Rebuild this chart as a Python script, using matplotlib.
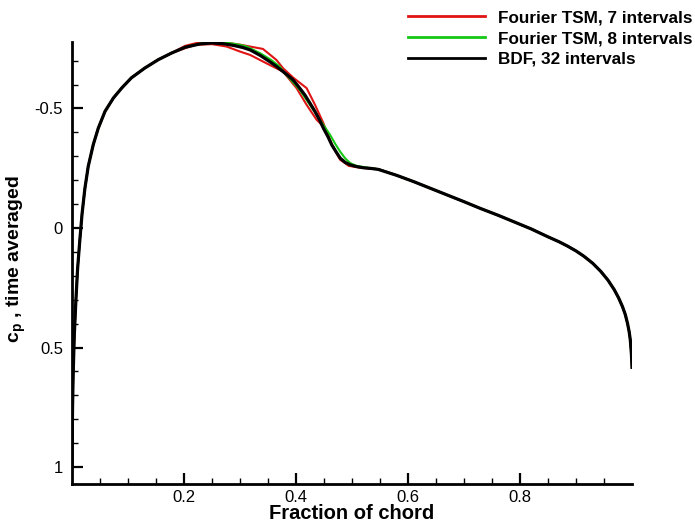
import matplotlib
matplotlib.use("Agg")
import matplotlib.pyplot as plt
from matplotlib.ticker import FixedLocator

plt.rcParams['font.family'] = ['Liberation Sans', 'DejaVu Sans']
plt.rcParams['mathtext.fontset'] = 'custom'
plt.rcParams['mathtext.rm'] = 'Liberation Sans'
plt.rcParams['mathtext.bf'] = 'Liberation Sans:bold'

# ---------------- data ----------------
# shared leading-edge part
le_x = [0.000, 0.0005, 0.001, 0.002, 0.004, 0.007, 0.010, 0.014, 0.018, 0.023,
        0.029, 0.038, 0.047, 0.059, 0.074, 0.089, 0.106, 0.130, 0.154, 0.178]
le_cp = [1.000, 0.850, 0.750, 0.620, 0.455, 0.300, 0.170, 0.050, -0.060, -0.165,
         -0.258, -0.349, -0.418, -0.488, -0.544, -0.586, -0.628, -0.669, -0.704, -0.732]

# shared aft part (x > 0.55)
te_x = [0.580, 0.610, 0.640, 0.670, 0.700, 0.729, 0.760, 0.789, 0.820, 0.849,
        0.870, 0.885, 0.900, 0.914, 0.930, 0.944, 0.957, 0.968, 0.976, 0.983,
        0.988, 0.992, 0.995, 0.997, 0.998, 0.999, 1.000]
te_cp = [-0.220, -0.194, -0.166, -0.138, -0.110, -0.082, -0.054, -0.026, 0.004, 0.036,
         0.058, 0.076, 0.096, 0.118, 0.148, 0.181, 0.218, 0.257, 0.292, 0.329,
         0.362, 0.399, 0.435, 0.469, 0.500, 0.530, 0.583]

bdf_mid_x = [0.202, 0.229, 0.250, 0.270, 0.290, 0.305, 0.318, 0.336, 0.353, 0.365,
             0.377, 0.386, 0.395, 0.405, 0.416, 0.425, 0.434, 0.442, 0.449, 0.457,
             0.464, 0.472, 0.479, 0.488, 0.497, 0.508, 0.520, 0.534, 0.547]
bdf_mid_cp = [-0.756, -0.770, -0.774, -0.771, -0.763, -0.755, -0.745, -0.722, -0.696, -0.676,
              -0.654, -0.637, -0.619, -0.590, -0.556, -0.522, -0.487, -0.452, -0.417, -0.382,
              -0.347, -0.317, -0.292, -0.274, -0.264, -0.257, -0.252, -0.249, -0.245]

tsm8_mid_x = [0.202, 0.229, 0.250, 0.280, 0.300, 0.312, 0.336, 0.355, 0.371, 0.377,
              0.392, 0.407, 0.422, 0.437, 0.449, 0.461, 0.470, 0.479, 0.488, 0.497,
              0.508, 0.520, 0.547]
tsm8_mid_cp = [-0.756, -0.771, -0.777, -0.774, -0.766, -0.759, -0.731, -0.704, -0.675, -0.655,
               -0.617, -0.577, -0.525, -0.473, -0.431, -0.389, -0.352, -0.319, -0.291, -0.271,
               -0.260, -0.255, -0.246]

# Fourier TSM, 7 intervals: two surfaces (A and B)
tsm7a_mid_x = [0.202, 0.230, 0.270, 0.300, 0.318, 0.341, 0.365, 0.377, 0.395, 0.419,
               0.434, 0.449, 0.464, 0.479, 0.494, 0.515, 0.547]
tsm7a_mid_cp = [-0.762, -0.778, -0.777, -0.767, -0.759, -0.749, -0.703, -0.668, -0.629, -0.585,
                -0.515, -0.438, -0.347, -0.285, -0.262, -0.253, -0.246]
tsm7b_mid_x = [0.202, 0.220, 0.250, 0.276, 0.300, 0.318, 0.353, 0.377, 0.401, 0.419,
               0.437, 0.452, 0.464, 0.479, 0.494, 0.515, 0.547]
tsm7b_mid_cp = [-0.752, -0.766, -0.769, -0.759, -0.738, -0.724, -0.682, -0.654, -0.585, -0.515,
                -0.452, -0.418, -0.350, -0.288, -0.260, -0.252, -0.246]

series_labels = ["Fourier TSM, 7 intervals", "Fourier TSM, 8 intervals", "BDF, 32 intervals"]
series_colors = ["#e01414", "#14c814", "#000000"]

x_major = [0.2, 0.4, 0.6, 0.8]
x_major_labels = ["0.2", "0.4", "0.6", "0.8"]
x_minor = [0.05, 0.1, 0.15, 0.25, 0.3, 0.35, 0.45, 0.5, 0.55, 0.65, 0.7, 0.75, 0.85, 0.9, 0.95]
y_major = [-0.5, 0.0, 0.5, 1.0]
y_major_labels = ["-0.5", "0", "0.5", "1"]
y_minor = [-0.7, -0.6, -0.4, -0.3, -0.2, -0.1, 0.1, 0.2, 0.3, 0.4, 0.6, 0.7, 0.8, 0.9]

bdf_x = le_x + bdf_mid_x + te_x
bdf_cp = le_cp + bdf_mid_cp + te_cp
tsm8_x = le_x + tsm8_mid_x + te_x
tsm8_cp = le_cp + tsm8_mid_cp + te_cp
tsm7a_x = le_x + tsm7a_mid_x + te_x
tsm7a_cp = le_cp + tsm7a_mid_cp + te_cp
tsm7b_x = le_x + tsm7b_mid_x + te_x
tsm7b_cp = le_cp + tsm7b_mid_cp + te_cp

# ---------------- plot ----------------
fig = plt.figure(figsize=(6.95, 5.27), dpi=100)
ax = fig.add_axes([72/695, 43/527, 560/695, 442/527])

l7, = ax.plot(tsm7a_x, tsm7a_cp, color=series_colors[0], lw=1.5, label=series_labels[0])
ax.plot(tsm7b_x, tsm7b_cp, color=series_colors[0], lw=1.5)
l8, = ax.plot(tsm8_x, tsm8_cp, color=series_colors[1], lw=1.5, label=series_labels[1])
lb, = ax.plot(bdf_x, bdf_cp, color=series_colors[2], lw=2.3, label=series_labels[2])

ax.set_xlim(0, 1.0)
ax.set_ylim(1.071, -0.778)

for s in ['top', 'right']:
    ax.spines[s].set_visible(False)
for s in ['left', 'bottom']:
    ax.spines[s].set_linewidth(2.0)

ax.xaxis.set_major_locator(FixedLocator(x_major))
ax.set_xticklabels(x_major_labels)
ax.xaxis.set_minor_locator(FixedLocator(x_minor))
ax.yaxis.set_major_locator(FixedLocator(y_major))
ax.set_yticklabels(y_major_labels)
ax.yaxis.set_minor_locator(FixedLocator(y_minor))

ax.tick_params(which='major', direction='in', length=8, width=1.6, labelsize=12)
ax.tick_params(axis='x', which='major', pad=4)
ax.tick_params(axis='y', which='major', pad=6.5)
ax.tick_params(which='minor', direction='in', length=4.5, width=1.0)

ax.set_xlabel("Fraction of chord", fontsize=14.5, fontweight='bold')
ax.xaxis.set_label_coords(0.5, -0.045)
ax.set_ylabel(r"c$_{\mathbf{p}}$ , time averaged", fontsize=14, fontweight='bold')
ax.yaxis.set_label_coords(-0.078, 0.508)

leg = fig.legend(handles=[l7, l8, lb], loc='upper right', bbox_to_anchor=(1.002, 0.987),
                 frameon=False, prop={'weight': 'bold', 'size': 12.3},
                 handlelength=4.5, handletextpad=0.8, labelspacing=0.34,
                 borderaxespad=0.0, borderpad=0.2)
for h in leg.legend_handles:
    h.set_linewidth(2.0)

fig.savefig("out.png", dpi=100)
